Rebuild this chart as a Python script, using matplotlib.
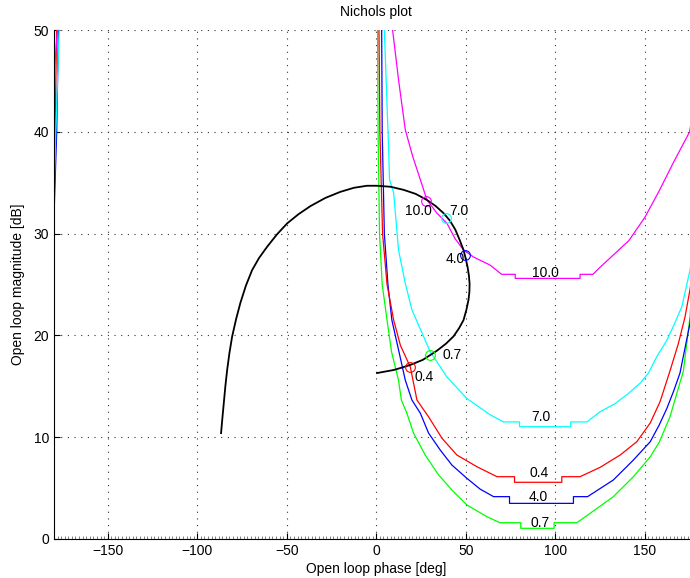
import matplotlib
matplotlib.use("Agg")
import matplotlib.pyplot as plt
from matplotlib.ticker import MultipleLocator

plt.rcParams['font.family'] = ['Liberation Sans', 'DejaVu Sans']
plt.rcParams['font.size'] = 10

# Open-loop curve L(jw)
loop_phase = [-86.7, -86.0, -85.2, -84.3, -83.3, -82.0, -80.5, -78.3, -75.9, -72.8, -69.4, -65.5, -61.0,
              -55.6, -49.8, -43.5, -36.8, -28.5, -20.1, -12.5, -5.2, 0.4, 8.0, 15.2, 22.0, 28.3, 33.2,
              37.6, 41.0, 44.1, 46.5, 48.7, 50.0, 51.0, 51.7, 52.1, 52.0, 51.5, 50.3, 48.7, 46.2, 43.1,
              39.0, 33.9, 26.0, 19.0, 14.5, 9.7, 5.0, 0.4]
loop_mag = [10.4, 11.8, 13.3, 15.0, 16.6, 18.3, 19.9, 21.6, 23.2, 24.9, 26.4, 27.6, 28.7,
            29.9, 31.0, 31.9, 32.7, 33.5, 34.1, 34.5, 34.7, 34.7, 34.6, 34.3, 33.9, 33.3, 32.7,
            32.0, 31.3, 30.4, 29.4, 28.4, 27.5, 26.7, 25.9, 25.1, 24.3, 23.5, 22.5, 21.5, 20.7, 19.9,
            19.2, 18.5, 17.6, 17.1, 16.85, 16.6, 16.45, 16.3]

# Bounds (one per frequency)
freq_labels = ["10.0", "7.0", "4.0", "0.7", "0.4"]
colors = ["#ff00ff", "#00ffff", "#0000ff", "#00ff00", "#ff0000"]

b10_phase = [9.1, 12.5, 16.2, 20.3, 24.6, 28.3, 33.9, 39.5, 44.0, 48.7, 54.3, 63.6, 70.0, 77.6, 77.6,
             113.8, 113.8, 121.0, 125.0, 133.0, 141.0, 150.0, 158.0, 166.0, 175.0, 180.0]
b10_mag = [50.0, 45.0, 40.2, 37.6, 35.3, 33.3, 32.0, 31.0, 29.5, 28.4, 27.7, 26.9, 26.0, 26.0, 25.6,
           25.6, 26.0, 26.0, 26.7, 28.0, 29.3, 31.6, 34.2, 37.0, 40.0, 45.6]
b10_wrap_phase = [-180.0, -177.8]
b10_wrap_mag = [45.6, 50.5]

b7_phase = [4.5, 6.9, 7.4, 9.7, 12.4, 16.2, 19.9, 26.4, 30.1, 39.5, 50.6, 63.6, 71.0, 80.0, 80.0,
            108.6, 108.6, 117.6, 125.0, 133.4, 140.8, 147.3, 152.0, 156.6, 162.2, 165.9, 170.6, 175.2, 178.0, 180.0]
b7_mag = [50.0, 38.2, 35.3, 34.0, 28.4, 25.1, 22.5, 19.9, 18.4, 15.9, 13.8, 12.2, 11.5, 11.5, 11.03,
          11.03, 11.5, 11.5, 12.5, 13.3, 14.3, 15.3, 16.3, 17.9, 19.5, 20.9, 22.8, 26.4, 30.0, 34.0]
b7_wrap_phase = [-180.0, -179.0, -177.0]
b7_wrap_mag = [34.0, 40.0, 50.5]

b4_phase = [3.0, 3.3, 4.5, 6.5, 8.7, 12.4, 16.2, 19.9, 24.6, 29.2, 35.7, 42.2, 50.6, 58.0, 65.5, 74.4, 74.4,
            110.1, 110.1, 118.0, 132.4, 143.6, 153.0, 158.0, 162.2, 166.0, 169.6, 175.2, 178.0, 180.0]
b4_mag = [50.0, 40.0, 30.0, 25.0, 21.5, 18.6, 15.6, 13.65, 12.35, 10.4, 8.74, 7.27, 5.96, 4.9, 4.16, 4.16, 3.5,
          3.5, 4.16, 4.16, 5.8, 7.76, 9.56, 11.2, 12.8, 14.5, 16.3, 21.2, 26.0, 31.7]
b4_wrap_phase = [-180.0, -178.5, -177.5]
b4_wrap_mag = [31.7, 40.0, 50.5]

b07_phase = [0.7, 1.0, 1.8, 3.3, 6.0, 8.5, 12.4, 14.0, 17.1, 20.8, 27.3, 34.8, 42.2, 50.6, 61.8, 69.0,
             80.7, 80.7, 99.3, 99.3, 112.0, 119.4, 132.4, 143.6, 153.0, 158.0, 164.0, 171.5, 175.2, 178.0, 180.0]
b07_mag = [50.0, 40.0, 30.0, 25.0, 21.5, 18.4, 15.6, 13.65, 12.35, 10.4, 8.25, 6.29, 4.81, 3.34, 2.19, 1.6,
           1.6, 1.05, 1.05, 1.6, 1.6, 2.52, 4.16, 6.12, 8.08, 9.5, 12.0, 16.5, 21.8, 30.0, 44.1]
b07_wrap_phase = [-180.0, -179.8]
b07_wrap_mag = [44.1, 50.5]

b04_phase = [1.5, 2.0, 3.5, 6.0, 9.7, 13.5, 19.0, 22.7, 29.2, 36.7, 45.0, 56.2, 67.4, 77.2, 77.2,
             103.6, 103.6, 113.8, 125.0, 136.2, 145.5, 153.0, 158.5, 164.0, 168.7, 172.4, 175.2, 178.0, 180.0]
b04_mag = [50.0, 40.0, 30.0, 25.0, 21.5, 19.0, 16.9, 13.65, 12.0, 9.89, 8.25, 7.1, 6.12, 6.12, 5.57,
           5.57, 6.12, 6.12, 7.04, 8.25, 9.56, 11.4, 13.5, 16.5, 19.2, 21.8, 24.5, 28.0, 33.0]
b04_wrap_phase = [-180.0, -178.5]
b04_wrap_mag = [33.0, 50.5]

bounds_phase = [b10_phase, b7_phase, b4_phase, b07_phase, b04_phase]
bounds_mag = [b10_mag, b7_mag, b4_mag, b07_mag, b04_mag]
wrap_phase = [b10_wrap_phase, b7_wrap_phase, b4_wrap_phase, b07_wrap_phase, b04_wrap_phase]
wrap_mag = [b10_wrap_mag, b7_wrap_mag, b4_wrap_mag, b07_wrap_mag, b04_wrap_mag]

# Loop points at the design frequencies
pt_phase = [27.9, 39.1, 49.8, 30.1, 19.0]
pt_mag = [33.2, 31.5, 27.9, 18.08, 16.9]
pt_label_phase = [23.4, 46.3, 44.1, 42.2, 26.8]
pt_label_mag = [32.2, 32.2, 27.5, 18.07, 15.9]

# Bound labels near minimum
bl_phase = [94.3, 91.9, 90.6, 91.5, 91.1]
bl_mag = [26.1, 11.95, 4.16, 1.6, 6.45]

W, H = 690, 578
fig = plt.figure(figsize=(W / 100, H / 100), dpi=100)
x0, x1 = 54, 698.6
y_top, y_bot = 30, 539
ax = fig.add_axes([x0 / W, (H - y_bot) / H, (x1 - x0) / W, (y_bot - y_top) / H])

order = [3, 2, 4, 1, 0]
for i in order:
    ax.plot(bounds_phase[i], bounds_mag[i], color=colors[i], lw=0.9)
    ax.plot(wrap_phase[i], wrap_mag[i], color=colors[i], lw=0.9)

ax.plot(loop_phase, loop_mag, color='black', lw=1.3)

for i in range(5):
    ax.plot(pt_phase[i], pt_mag[i], 'o', ms=7, mfc='none', mec=colors[i], mew=0.8)
    ax.text(pt_label_phase[i], pt_label_mag[i], freq_labels[i], ha='center', va='center', fontsize=10)
    ax.text(bl_phase[i], bl_mag[i], freq_labels[i], ha='center', va='center', fontsize=10)

ax.set_xlim(-180, 180)
ax.set_ylim(0, 50)
ax.xaxis.set_major_locator(MultipleLocator(50))
ax.xaxis.set_minor_locator(MultipleLocator(2))
ax.yaxis.set_major_locator(MultipleLocator(10))
ax.tick_params(which='major', direction='in', length=4, width=0.8)
ax.tick_params(axis='x', which='minor', direction='in', length=2, width=0.5, color='0.3')
ax.spines['top'].set_visible(False)
ax.spines['right'].set_visible(False)
ax.grid(True, which='major', linestyle=(0, (1, 5)), color='0.2', linewidth=0.8)
ax.set_axisbelow(True)

ax.set_title("Nichols plot", fontsize=10, pad=10)
ax.set_xlabel("Open loop phase [deg]", fontsize=10, labelpad=3)
ax.set_ylabel("Open loop magnitude [dB]", fontsize=10, labelpad=6)

fig.savefig("out.png", dpi=100)
